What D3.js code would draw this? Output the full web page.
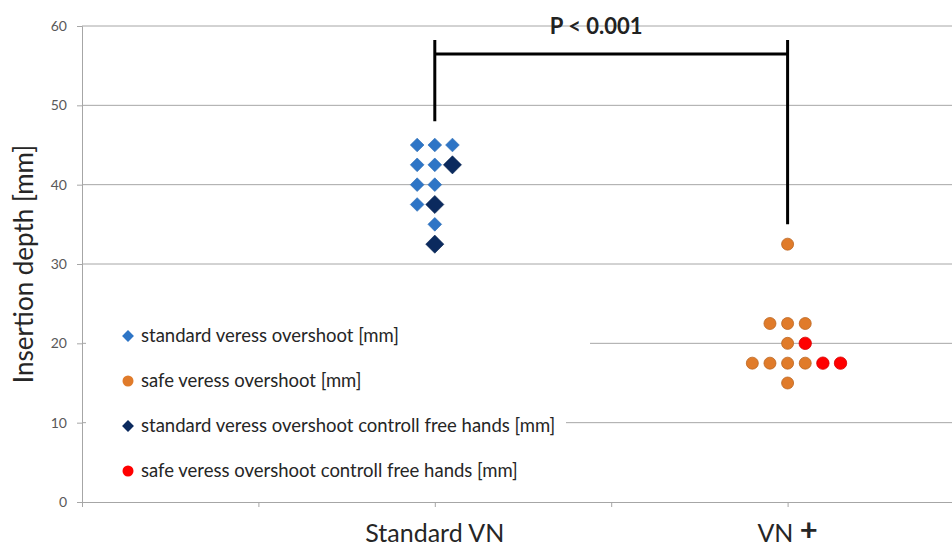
<!DOCTYPE html>
<html>
<head>
<meta charset="utf-8">
<script src="https://cdn.jsdelivr.net/npm/d3@7"></script>
<style>
  body { margin: 0; background: #fff; }
  text { font-family: Lato, "Open Sans", sans-serif; }
</style>
</head>
<body>
<svg id="chart" width="952" height="547"></svg>
<script>
// groups on the x value axis
var groupNames = ["Standard VN", "VN +"];
var groupX = [1, 2];
var jitterStep = 0.05;

// standard veress overshoot [mm]  (jitter slot, value)
var standardSlot  = [-1, 0, 1, -1, 0, -1, 0, -1, 0, 0];
var standardVals  = [45, 45, 45, 42.5, 42.5, 40, 40, 37.5, 37.5, 35];

// standard veress overshoot controll free hands [mm]
var standardFreeSlot = [1, 0, 0];
var standardFreeVals = [42.5, 37.5, 32.5];

// safe veress overshoot [mm]
var safeSlot = [0, -1, 0, 1, 0, -2, -1, 0, 1, 0];
var safeVals = [32.5, 22.5, 22.5, 22.5, 20, 17.5, 17.5, 17.5, 17.5, 15];

// safe veress overshoot controll free hands [mm]
var safeFreeSlot = [1, 2, 3];
var safeFreeVals = [20, 17.5, 17.5];

var yTicks = [0, 10, 20, 30, 40, 50, 60];
var xTicks = [0, 0.5, 1, 1.5, 2, 2.5];

var legendLabels = [
  "standard veress overshoot [mm]",
  "safe veress overshoot [mm]",
  "standard veress overshoot controll free hands [mm]",
  "safe veress overshoot controll free hands [mm]"
];

var colors = {
  standard: "#2E75C6",
  safe: "#E07B2A",
  standardFree: "#0B2A5E",
  safeFree: "#FF0000"
};

var svg = d3.select("#chart");

var x = d3.scaleLinear().domain([0, 2.5]).range([82, 964]);
var y = d3.scaleLinear().domain([0, 60]).range([502, 26]);

// grid
svg.append("g")
  .selectAll("line")
  .data(yTicks.filter(d => d > 0))
  .join("line")
    .attr("x1", x(0)).attr("x2", 952)
    .attr("y1", d => y(d)).attr("y2", d => y(d))
    .attr("stroke", "#A6A6A6").attr("stroke-width", 1);

// y axis
var yAxis = svg.append("g")
  .attr("transform", "translate(" + x(0) + ",0)")
  .call(d3.axisLeft(y).tickValues(yTicks).tickSize(5).tickPadding(10));
yAxis.select(".domain").attr("stroke", "#A6A6A6");
yAxis.selectAll(".tick line").attr("stroke", "#A6A6A6");
yAxis.selectAll(".tick text")
  .attr("fill", "#595959")
  .style("font-size", "14px")
  .style("font-family", "Lato, sans-serif");

// x axis
var xAxis = svg.append("g")
  .attr("transform", "translate(0," + y(0) + ")")
  .call(d3.axisBottom(x).tickValues(xTicks).tickSize(5).tickFormat(""));
xAxis.select(".domain").attr("stroke", "#A6A6A6");
xAxis.selectAll(".tick line").attr("stroke", "#A6A6A6");

// legend box hides grid
svg.append("rect")
  .attr("x", 86).attr("y", 312)
  .attr("width", 480).attr("height", 180)
  .attr("fill", "#fff");
svg.append("rect")
  .attr("x", 566).attr("y", 330)
  .attr("width", 24).attr("height", 20)
  .attr("fill", "#fff");

// y title
svg.append("text")
  .attr("transform", "translate(33," + y(30) + ") rotate(-90)")
  .attr("text-anchor", "middle")
  .style("font-size", "26px")
  .attr("fill", "#262626")
  .text("Insertion depth [mm]");

// x category labels
svg.append("text")
  .attr("x", x(groupX[0])).attr("y", 542)
  .attr("text-anchor", "middle")
  .style("font-size", "25px")
  .attr("fill", "#262626")
  .text(groupNames[0]);

var lbl2 = svg.append("text")
  .attr("x", x(groupX[1])).attr("y", 542)
  .attr("text-anchor", "middle")
  .style("font-size", "25px")
  .attr("fill", "#262626");
lbl2.append("tspan").text("VN ");
lbl2.append("tspan")
  .style("font-weight", "bold").style("font-size", "31px")
  .attr("dy", -1)
  .text("+");

// significance bracket
var bracketY = 54;
svg.append("path")
  .attr("d", "M" + x(groupX[0]) + "," + y(48) + "V" + 40 + "M" + x(groupX[0]) + "," + bracketY +
             "H" + x(groupX[1]) + "M" + x(groupX[1]) + "," + 40 + "V" + y(35))
  .attr("fill", "none").attr("stroke", "#000").attr("stroke-width", 3);
svg.append("text")
  .attr("x", (x(groupX[0]) + x(groupX[1])) / 2 - 15).attr("y", 34)
  .attr("text-anchor", "middle")
  .style("font-size", "22px").style("font-weight", "bold")
  .attr("fill", "#222")
  .text("P < 0.001");

function px(s, g) { return x(groupX[g] + s * jitterStep); }

var diamond = d3.symbol().type(d3.symbolDiamond2);

function drawDiamonds(slots, vals, g, size, color) {
  svg.append("g").selectAll("path")
    .data(vals)
    .join("path")
      .attr("d", diamond.size(size)())
      .attr("transform", (d, i) => "translate(" + px(slots[i], g) + "," + y(d) + ")")
      .attr("fill", color)
      .attr("stroke", d3.color(color).darker(0.3))
      .attr("stroke-width", 0.6);
}

function drawCircles(slots, vals, g, r, color) {
  svg.append("g").selectAll("circle")
    .data(vals)
    .join("circle")
      .attr("cx", (d, i) => px(slots[i], g))
      .attr("cy", d => y(d))
      .attr("r", r)
      .attr("fill", color)
      .attr("stroke", d3.color(color).darker(0.5))
      .attr("stroke-width", 0.8);
}

drawDiamonds(standardSlot, standardVals, 0, 120, colors.standard);
drawDiamonds(standardFreeSlot, standardFreeVals, 0, 210, colors.standardFree);
drawCircles(safeSlot, safeVals, 1, 6, colors.safe);
drawCircles(safeFreeSlot, safeFreeVals, 1, 6.2, colors.safeFree);

// legend
var legendY = [336, 381, 426, 471];
var legend = svg.append("g");
legendLabels.forEach((t, i) => {
  var cx = 128;
  if (i === 0 || i === 2) {
    legend.append("path")
      .attr("d", diamond.size(90)())
      .attr("transform", "translate(" + cx + "," + legendY[i] + ")")
      .attr("fill", i === 0 ? colors.standard : colors.standardFree);
  } else {
    legend.append("circle")
      .attr("cx", cx).attr("cy", legendY[i]).attr("r", 5.5)
      .attr("fill", i === 1 ? colors.safe : colors.safeFree);
  }
  legend.append("text")
    .attr("x", 141).attr("y", legendY[i] + 6)
    .style("font-size", "18.5px")
    .attr("fill", "#262626")
    .text(t);
});
</script>
</body>
</html>
